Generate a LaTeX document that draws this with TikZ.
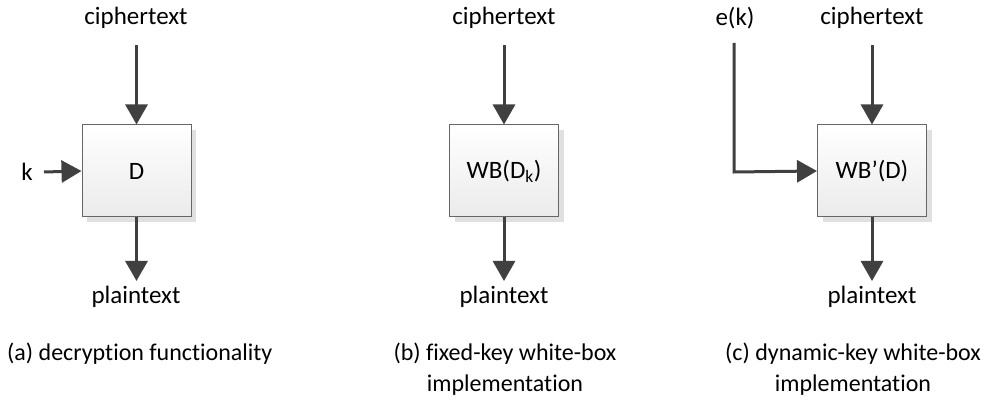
\documentclass[tikz,border=0pt]{standalone}
\usepackage{fontspec}
\setmainfont{Carlito}[Ligatures=NoCommon]
\usetikzlibrary{arrows.meta,shadows}
\definecolor{ln}{HTML}{404040}
\tikzset{
  blk/.style={draw=ln!80, line width=1pt, minimum width=109pt, minimum height=92pt,
    top color=white, bottom color=black!8, inner sep=0pt,
    drop shadow={shadow xshift=5pt, shadow yshift=-5pt, fill=black!12, opacity=1}},
  conn/.style={draw=ln, line width=3pt, -{Triangle[length=20pt,width=22pt]}},
  lbl/.style={font=\fontsize{25}{30}\selectfont, inner sep=0pt},
  captxt/.style={font=\fontsize{24}{31}\selectfont, inner sep=0pt, align=center}
}
\begin{document}
\begin{tikzpicture}[x=1pt,y=-1pt]
\useasboundingbox (0,0) rectangle (986,419);
% (a)
\node[blk] (A) at (136.5,171) {};
\node[lbl] at (A) {D};
\node[lbl] (ca) at (136,18) {ciphertext};
\node[lbl] (pa) at (136,297) {plaintext};
\node[lbl] (k) at (27,172) {k};
\coordinate (ka) at (44,172);
\coordinate (ta) at (136.5,45);
\coordinate (ba) at (136.5,281);
\draw[conn] (ta) -- (A.north);
\draw[conn] (A.south) -- (ba);
\draw[conn] (ka) -- (A.west);
% (b)
\node[blk] (B) at (504,171) {};
\node[lbl] at (B) {WB(D\textsubscript{k})};
\node[lbl] (cb) at (504,18) {ciphertext};
\node[lbl] (pb) at (504,297) {plaintext};
\coordinate (tb) at (504,45);
\coordinate (bb) at (504,281);
\draw[conn] (tb) -- (B.north);
\draw[conn] (B.south) -- (bb);
% (c)
\node[blk] (C) at (872,171) {};
\node[lbl] at (C) {WB’(D)};
\node[lbl] (cc) at (872,18) {ciphertext};
\node[lbl] (pc) at (872,297) {plaintext};
\node[lbl] (ek) at (735,18) {e(k)};
\coordinate (tc) at (872,45);
\coordinate (bc) at (872,281);
\coordinate (ec) at (734,43);
\coordinate (cornerc) at (734,172);
\draw[conn] (tc) -- (C.north);
\draw[conn] (C.south) -- (bc);
\draw[conn] (ec) -- (cornerc) -- (C.west);
% captions
\node[captxt, anchor=west] (capa) at (7,354) {(a) decryption functionality};
\node[captxt] (capb) at (505,369) {(b) fixed-key white-box\\implementation};
\node[captxt] (capc) at (853,369) {(c) dynamic-key white-box\\implementation};
\end{tikzpicture}
\end{document}
